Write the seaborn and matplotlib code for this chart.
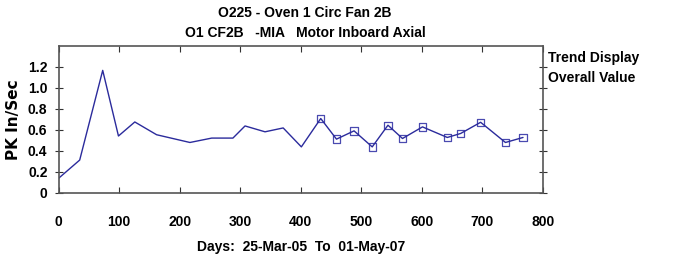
import matplotlib
matplotlib.use("Agg")
import matplotlib.pyplot as plt
import seaborn as sns
import pandas as pd

days = [0, 35, 73, 99, 126, 162, 217, 253, 288, 308, 341, 371, 401,
        433, 459, 488, 518, 544, 568, 601, 642, 664, 697, 738, 767]
values = [0.135, 0.31, 1.167, 0.54, 0.674, 0.552, 0.478, 0.52, 0.52, 0.636, 0.58, 0.617, 0.436,
          0.707, 0.51, 0.589, 0.436, 0.643, 0.516, 0.627, 0.526, 0.564, 0.671, 0.478, 0.526]
marked_from = 13  # samples from here on carry square markers

x_ticks = [0, 100, 200, 300, 400, 500, 600, 700, 800]
y_ticks = [0, 0.2, 0.4, 0.6, 0.8, 1.0, 1.2]
y_tick_labels = ["0", "0.2", "0.4", "0.6", "0.8", "1.0", "1.2"]

title1 = "O225 - Oven 1 Circ Fan 2B"
title2 = "O1 CF2B   -MIA   Motor Inboard Axial"
xlabel = "Days:  25-Mar-05  To  01-May-07"
ylabel = "PK In/Sec"
side1 = "Trend Display"
side2 = "Overall Value"

sns.set_style("white")
FAM = ["Liberation Sans Narrow", "Liberation Sans", "DejaVu Sans"]
plt.rcParams["font.family"] = FAM
plt.rcParams["text.color"] = "black"
plt.rcParams["axes.labelcolor"] = "black"
plt.rcParams["xtick.color"] = "black"
plt.rcParams["ytick.color"] = "black"

df = pd.DataFrame({"day": days, "value": values})
dfm = df.iloc[marked_from:]

fig = plt.figure(figsize=(6.81, 2.54), dpi=100)
ax = fig.add_axes([58.5 / 681, 61.5 / 254, (543 - 58.5) / 681, (192.5 - 46) / 254])

sns.lineplot(data=df, x="day", y="value", ax=ax, color="#2b2b9c", linewidth=1.0)
sns.scatterplot(data=dfm, x="day", y="value", ax=ax, marker="s", s=28,
                facecolor="none", edgecolor="#4a4ab0", linewidth=0.9)

ax.set_xlim(0, 800)
ax.set_ylim(0, 1.4)
ax.set_xticks(x_ticks)
ax.set_xticklabels([str(t) for t in x_ticks], fontsize=10, fontweight="bold")
ax.set_yticks(y_ticks)
ax.set_yticklabels(y_tick_labels, fontsize=10, fontweight="bold")
ax.tick_params(axis="x", direction="in", length=4, pad=16, top=True, bottom=True,
               color="#333333", labelcolor="black")
ax.tick_params(axis="y", direction="inout", length=6, pad=5, left=True, right=True,
               color="#333333", labelcolor="black")
ax.set_xlabel(xlabel, fontsize=10, fontweight="bold", labelpad=8, color="black")
ax.set_ylabel(ylabel, fontsize=11, fontweight="bold", family="DejaVu Sans", labelpad=5, color="black")
for s in ax.spines.values():
    s.set_visible(True)
    s.set_color("#555555")
    s.set_linewidth(1.2)

fig.text(305 / 681, 1 - 13 / 254, title1, ha="center", va="center", fontsize=10, fontweight="bold", color="black")
fig.text(305 / 681, 1 - 33 / 254, title2, ha="center", va="center", fontsize=10, fontweight="bold", color="black")
fig.text(548 / 681, 1 - 58 / 254, side1, ha="left", va="center", fontsize=10, fontweight="bold", color="black")
fig.text(548 / 681, 1 - 78 / 254, side2, ha="left", va="center", fontsize=10, fontweight="bold", color="black")

fig.savefig("out.png", dpi=100)
